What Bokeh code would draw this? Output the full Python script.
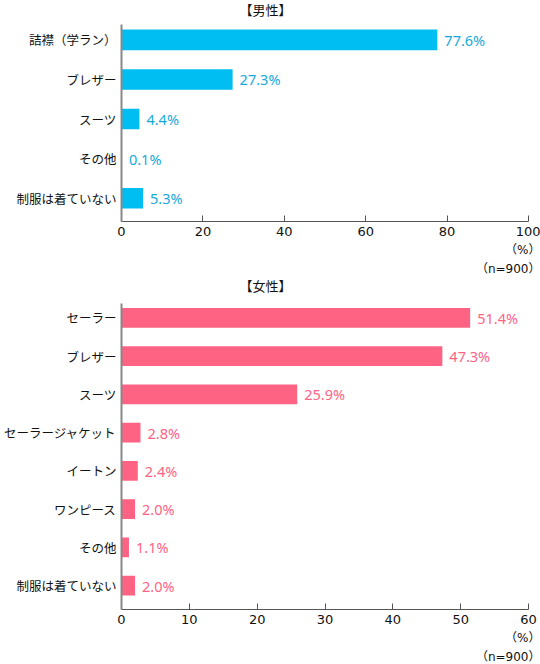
from bokeh.plotting import figure
from bokeh.models import Range1d, FixedTicker, Title, ColumnDataSource
from bokeh.layouts import column
from bokeh.embed import file_html
from bokeh.resources import INLINE
from bokeh.core.properties import value

# ---- data ----
male_title = "【男性】"
male_categories = ["詰襟（学ラン）", "ブレザー", "スーツ", "その他", "制服は着ていない"]
male_values = [77.6, 27.3, 4.4, 0.1, 5.3]
male_ticks = [0, 20, 40, 60, 80, 100]

female_title = "【女性】"
female_categories = ["セーラー", "ブレザー", "スーツ", "セーラージャケット", "イートン",
                     "ワンピース", "その他", "制服は着ていない"]
female_values = [51.4, 47.3, 25.9, 2.8, 2.4, 2.0, 1.1, 2.0]
female_ticks = [0, 10, 20, 30, 40, 50, 60]

unit_label = "（%）"
n_label = "（n=900）"

JP = "Noto Sans CJK JP"
JP_TIGHT = "DejaVu Sans, Noto Sans CJK JP"   # smaller line box, CJK glyphs from Noto


def make_chart(title, cats, vals, ticks, bar_color, text_color, height,
               border_top, border_bottom, pad_top, pad_bottom, cat_size, title_gap):
    n = len(cats)
    idx = list(range(n))
    src = ColumnDataSource(dict(
        y=idx, v=vals, lab=[f"{v:.1f}%" for v in vals]))
    p = figure(width=540, height=height, output_backend="svg", toolbar_location=None,
               x_range=Range1d(ticks[0], ticks[-1]),
               y_range=Range1d(n - 1 + pad_bottom, -pad_top),
               min_border_left=121, min_border_right=12,
               min_border_top=border_top, min_border_bottom=border_bottom)
    p.title = None
    # spacer between title and frame, then the title itself
    p.add_layout(Title(text=" ", text_font_size="1px", standoff=title_gap), "above")
    p.add_layout(Title(text=title, align="left", offset=118, text_font=JP_TIGHT,
                       text_font_size="13px", text_font_style="normal", text_color="#111111",
                       standoff=0), "above")
    p.hbar(y="y", left=0, right="v", height=0.52, source=src,
           fill_color=bar_color, line_color=None)
    p.text(x="v", y="y", text="lab", source=src, x_offset=7,
           text_align="left", text_baseline="middle", text_color=text_color,
           text_font=value("Noto Sans"), text_font_size="14.5px")

    p.xgrid.visible = False
    p.ygrid.visible = False
    p.outline_line_color = None

    xa = p.xaxis[0]
    xa.ticker = FixedTicker(ticks=ticks)
    xa.major_tick_in = 6
    xa.major_tick_out = 0
    xa.minor_tick_in = 0
    xa.minor_tick_out = 0
    xa.minor_tick_line_color = None
    xa.axis_line_color = "#555555"
    xa.major_tick_line_color = "#555555"
    xa.major_label_text_font = JP_TIGHT
    xa.major_label_text_font_size = "13px"
    xa.major_label_text_color = "#111111"
    xa.major_label_standoff = 5

    ya = p.yaxis[0]
    ya.ticker = FixedTicker(ticks=idx)
    ya.major_label_overrides = {i: c for i, c in zip(idx, cats)}
    ya.major_tick_in = 0
    ya.major_tick_out = 0
    ya.minor_tick_in = 0
    ya.minor_tick_out = 0
    ya.major_tick_line_color = None
    ya.minor_tick_line_color = None
    ya.axis_line_color = "#888888"
    ya.axis_line_width = 2
    ya.major_label_text_font = JP
    ya.major_label_text_font_size = cat_size
    ya.major_label_text_color = "#111111"
    ya.major_label_standoff = 5

    for txt, so in [(unit_label, 4), (n_label, 2)]:
        p.add_layout(Title(text=txt, align="right", offset=-12, standoff=so,
                           text_font=JP_TIGHT, text_font_size="12px", text_font_style="normal",
                           text_color="#111111"), "below")
    return p


p1 = make_chart(male_title, male_categories, male_values, male_ticks,
                "#00BDF2", "#17A9DC", 276, 23, 54, 0.3875, 0.5875, "12.5px", 4)
p2 = make_chart(female_title, female_categories, female_values, female_ticks,
                "#FF6384", "#FF6384", 388, 27, 53, 0.377, 0.623, "12.5px", 7)

layout = column(p1, p2, spacing=0)
open("out.html", "w").write(file_html(layout, INLINE))
